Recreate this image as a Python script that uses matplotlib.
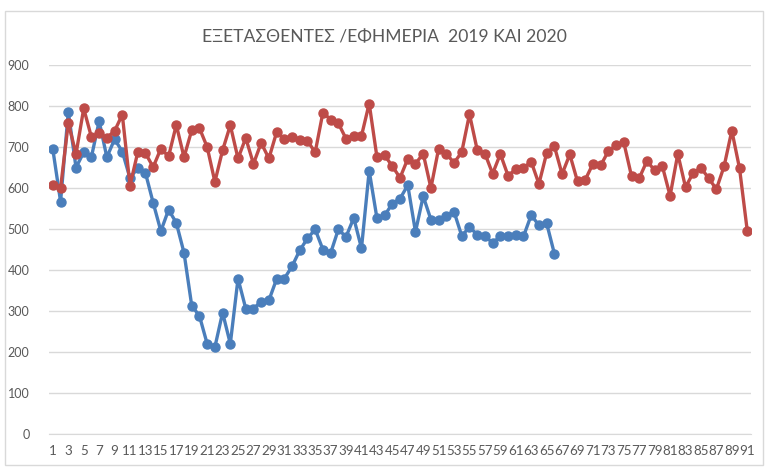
import matplotlib.pyplot as plt
from matplotlib.patches import Rectangle

# exams per on-call day, 2019 (blue, 66 days) and 2020 (red, 91 days)
blue = [694, 567, 786, 650, 687, 676, 763, 675, 719, 689,
        624, 649, 637, 564, 495, 547, 515, 442, 313, 288,
        220, 212, 296, 220, 379, 306, 306, 323, 326, 378,
        379, 409, 448, 477, 499, 450, 441, 499, 481, 527,
        453, 642, 527, 533, 562, 574, 607, 493, 580, 523,
        521, 532, 542, 483, 505, 486, 483, 466, 482, 482,
        485, 482, 534, 509, 514, 440]
red = [608, 600, 759, 683, 794, 724, 733, 723, 739, 779,
       606, 687, 685, 651, 696, 677, 754, 675, 741, 746,
       700, 615, 692, 753, 672, 722, 659, 710, 672, 736,
       720, 724, 717, 715, 687, 784, 767, 758, 720, 728,
       727, 806, 676, 680, 653, 625, 671, 659, 684, 600,
       696, 684, 661, 688, 780, 693, 684, 635, 683, 630,
       646, 649, 664, 610, 685, 702, 634, 682, 616, 620,
       659, 655, 690, 704, 711, 629, 624, 666, 643, 653,
       581, 683, 602, 637, 649, 624, 597, 653, 740, 648, 496]
title = "ΕΞΕΤΑΣΘΕΝΤΕΣ /ΕΦΗΜΕΡΙΑ  2019 ΚΑΙ 2020"

plt.rcParams['font.family'] = ['Lato', 'DejaVu Sans']
grey = '#595959'

fig = plt.figure(figsize=(7.68, 4.69), dpi=100)
ax = fig.add_axes([0.0638, 0.0746, 0.9142, 0.7868])

xb = list(range(1, len(blue) + 1))
xr = list(range(1, len(red) + 1))
ax.plot(xb, blue, color='#4a7ebb', lw=2.4, marker='o', ms=6.5, zorder=3)
ax.plot(xr, red, color='#be4b48', lw=2.4, marker='o', ms=6.5, zorder=3)

ax.set_xlim(0.5, 91.5)
ax.set_ylim(0, 900)
ax.set_yticks(range(0, 901, 100))
ax.set_xticks(range(1, 92, 2))
ax.set_xticklabels([str(i) for i in range(1, 92, 2)])
ax.tick_params(axis='both', length=0, colors=grey, labelsize=9)
ax.tick_params(axis='x', pad=8, labelsize=9.6)
ax.tick_params(axis='y', pad=14)
ax.grid(axis='y', color='#d9d9d9', lw=1)
ax.set_axisbelow(True)
for s in ['top', 'right', 'left']:
    ax.spines[s].set_visible(False)
ax.spines['bottom'].set_color('#d9d9d9')

fig.text(0.5, 0.92, title, ha='center', va='center', fontsize=12.6, color=grey)

fig.patches.append(Rectangle((0.006, 0.008), 0.988, 0.968, transform=fig.transFigure,
                             fill=False, edgecolor='#d9d9d9', lw=1))

fig.savefig('out.png', dpi=100)
